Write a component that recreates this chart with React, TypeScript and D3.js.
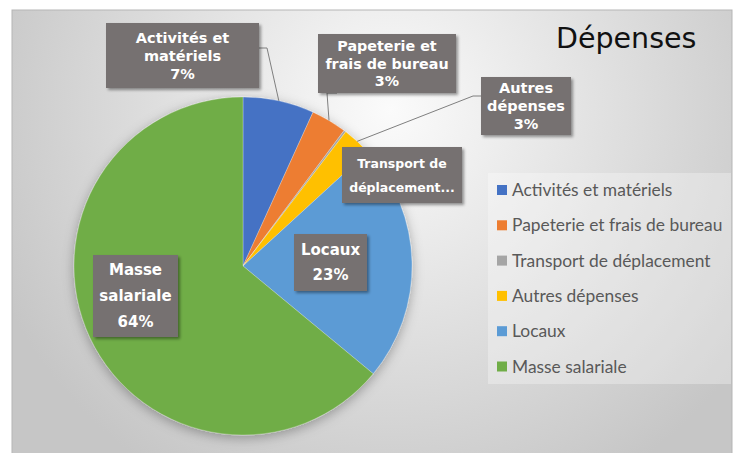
import React, { useEffect, useRef } from 'react';
import * as d3 from 'd3';

// parts of the budget, clockwise from 12 o'clock
const categories = [
  'Activités et matériels',
  'Papeterie et frais de bureau',
  'Transport de déplacement',
  'Autres dépenses',
  'Locaux',
  'Masse salariale',
];
const values = [6.8, 3.4, 0.2, 2.8, 22.8, 64.0];
const colors = ['#4472C4', '#ED7D31', '#A5A5A5', '#FFC000', '#5B9BD5', '#70AD47'];

// label text as it appears in the boxes (percentage appended below)
const labelLines = [
  ['Activités et', 'matériels'],
  ['Papeterie et', 'frais de bureau'],
  ['Transport de', 'déplacement...'],
  ['Autres', 'dépenses'],
  ['Locaux'],
  ['Masse', 'salariale'],
];

// box layout: x, y, w, h, font size, line gap, leader elbow (or null)
const boxes = [
  { x: 106, y: 23, w: 153, h: 65, fs: 14.5, gap: 18, showPct: true, elbow: [[259, 48], [267, 48]] },
  { x: 318, y: 34, w: 138, h: 59, fs: 14.3, gap: 17.5, showPct: true, elbow: [[337, 93], [327, 93]] },
  { x: 342, y: 147, w: 120, h: 56, fs: 12.5, gap: 24, showPct: false, elbow: null },
  { x: 481, y: 77, w: 90, h: 58, fs: 14.5, gap: 18, showPct: true, elbow: [[481, 96], [473, 96]] },
  { x: 294, y: 234, w: 73, h: 57, fs: 15, gap: 25, showPct: true, elbow: null },
  { x: 93, y: 255, w: 85, h: 82, fs: 15, gap: 26, showPct: true, elbow: null },
];

export default function App() {
  const ref = useRef<SVGSVGElement | null>(null);

  useEffect(() => {
    const width = 740;
    const height = 453;
    const cx = 243;
    const cy = 266;
    const radius = 169;

    const svg = d3.select(ref.current);
    svg.selectAll('*').remove();
    svg.attr('width', width).attr('height', height);

    const defs = svg.append('defs');
    const grad = defs.append('radialGradient')
      .attr('id', 'bg')
      .attr('gradientUnits', 'userSpaceOnUse')
      .attr('cx', 390).attr('cy', 110).attr('r', 430);
    grad.append('stop').attr('offset', '0%').attr('stop-color', '#fbfbfb');
    grad.append('stop').attr('offset', '100%').attr('stop-color', '#c6c6c6');

    const shadow = defs.append('filter').attr('id', 'shadow')
      .attr('x', '-20%').attr('y', '-20%').attr('width', '150%').attr('height', '150%');
    shadow.append('feDropShadow')
      .attr('dx', 2).attr('dy', 2).attr('stdDeviation', 1.5)
      .attr('flood-color', '#000').attr('flood-opacity', 0.4);

    const pieShadow = defs.append('filter').attr('id', 'pieShadow')
      .attr('x', '-20%').attr('y', '-20%').attr('width', '140%').attr('height', '140%');
    pieShadow.append('feDropShadow')
      .attr('dx', 0).attr('dy', 3).attr('stdDeviation', 6)
      .attr('flood-color', '#000').attr('flood-opacity', 0.3);

    // chart area
    svg.append('rect')
      .attr('x', 12).attr('y', 10)
      .attr('width', 720).attr('height', 450)
      .attr('fill', 'url(#bg)')
      .attr('stroke', '#b5b5b5')
      .attr('stroke-width', 1);

    const total = d3.sum(values);
    const pie = d3.pie<number>().sort(null).value(d => d);
    const arcs = pie(values);
    const arc = d3.arc<d3.PieArcDatum<number>>().innerRadius(0).outerRadius(radius);

    svg.append('g')
      .attr('transform', `translate(${cx},${cy})`)
      .attr('filter', 'url(#pieShadow)')
      .selectAll('path')
      .data(arcs)
      .join('path')
      .attr('d', arc)
      .attr('fill', (d, i) => colors[i])
      .attr('stroke', '#ffffff')
      .attr('stroke-opacity', 0.5)
      .attr('stroke-width', 0.5);

    // leader lines
    const lines = svg.append('g')
      .attr('fill', 'none')
      .attr('stroke', '#7f7f7f')
      .attr('stroke-width', 1);
    arcs.forEach((d, i) => {
      const b = boxes[i];
      if (!b.elbow) return;
      const mid = (d.startAngle + d.endAngle) / 2;
      const px = cx + radius * Math.sin(mid);
      const py = cy - radius * Math.cos(mid);
      lines.append('path')
        .attr('d', d3.line()([...b.elbow, [px, py]] as [number, number][]));
    });

    // data labels
    const fmt = d3.format('.0%');
    const labels = svg.append('g');
    arcs.forEach((d, i) => {
      const b = boxes[i];
      const g = labels.append('g');
      g.append('rect')
        .attr('x', b.x).attr('y', b.y)
        .attr('width', b.w).attr('height', b.h)
        .attr('fill', '#767171')
        .attr('filter', 'url(#shadow)');
      const txt = b.showPct ? [...labelLines[i], fmt(d.data / total)] : labelLines[i];
      const y0 = b.y + b.h / 2 - ((txt.length - 1) * b.gap) / 2;
      g.selectAll('text')
        .data(txt)
        .join('text')
        .attr('x', b.x + b.w / 2)
        .attr('y', (t, k) => y0 + k * b.gap)
        .attr('dy', '0.36em')
        .attr('text-anchor', 'middle')
        .attr('fill', '#ffffff')
        .attr('font-family', '"DejaVu Sans", sans-serif')
        .attr('font-weight', 700)
        .attr('font-size', b.fs)
        .text(t => t);
    });

    // title
    svg.append('text')
      .attr('x', 556).attr('y', 48)
      .attr('font-family', '"DejaVu Sans", sans-serif')
      .attr('font-size', 28.5)
      .attr('fill', '#111')
      .text('Dépenses');

    // legend
    const legend = svg.append('g');
    legend.append('rect')
      .attr('x', 488).attr('y', 173)
      .attr('width', 243).attr('height', 211)
      .attr('fill', '#ffffff')
      .attr('fill-opacity', 0.3);
    const row = legend.selectAll('g.item')
      .data(categories)
      .join('g')
      .attr('class', 'item')
      .attr('transform', (d, i) => `translate(497,${190 + i * 35.3})`);
    row.append('rect')
      .attr('x', 0).attr('y', -5)
      .attr('width', 10).attr('height', 10)
      .attr('fill', (d, i) => colors[i]);
    row.append('text')
      .attr('x', 15)
      .attr('dy', '0.35em')
      .attr('font-family', 'Lato, sans-serif')
      .attr('font-size', 17.4)
      .attr('fill', '#595959')
      .text(d => d);
  }, []);

  return (
    <div style={{ position: 'absolute', left: 0, top: 0 }}>
      <svg ref={ref} style={{ display: 'block' }} />
    </div>
  );
}
